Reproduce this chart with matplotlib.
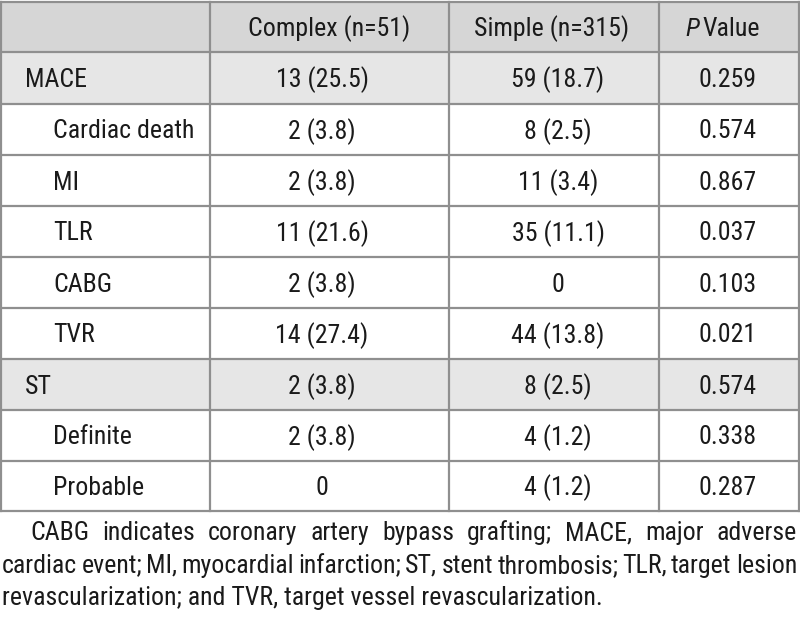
import matplotlib
matplotlib.use("Agg")
import matplotlib.pyplot as plt
from matplotlib.patches import Rectangle
from matplotlib import font_manager

available = {f.name for f in font_manager.fontManager.ttflist}
family = None
for cand in ['Liberation Sans Narrow', 'Roboto Condensed', 'Arial Narrow', 'Roboto', 'Liberation Sans']:
    if cand in available:
        family = cand
        break
plt.rcParams['font.family'] = [family, 'DejaVu Sans'] if family else ['DejaVu Sans']

# ---- data ----
headers = ["", "Complex (n=51)", "Simple (n=315)", "P Value"]
row_labels = ["MACE", "Cardiac death", "MI", "TLR", "CABG", "TVR", "ST", "Definite", "Probable"]
row_level = [0, 1, 1, 1, 1, 1, 0, 1, 1]
complex_vals = ["13 (25.5)", "2 (3.8)", "2 (3.8)", "11 (21.6)", "2 (3.8)", "14 (27.4)", "2 (3.8)", "2 (3.8)", "0"]
simple_vals = ["59 (18.7)", "8 (2.5)", "11 (3.4)", "35 (11.1)", "0", "44 (13.8)", "8 (2.5)", "4 (1.2)", "4 (1.2)"]
p_vals = ["0.259", "0.574", "0.867", "0.037", "0.103", "0.021", "0.574", "0.338", "0.287"]
footnote = ("CABG indicates coronary artery bypass grafting; MACE, major adverse "
            "cardiac event; MI, myocardial infarction; ST, stent thrombosis; TLR, target lesion "
            "revascularization; and TVR, target vessel revascularization.")
footnote_breaks = [9, 11]  # word counts per justified line

W, H = 800, 623
fig = plt.figure(figsize=(W / 100, H / 100), dpi=100)
ax = fig.add_axes([0, 0, 1, 1])
ax.set_xlim(0, W)
ax.set_ylim(H, 0)
ax.axis('off')
fig.canvas.draw()
renderer = fig.canvas.get_renderer()

# choose font size so the header text matches the reference width (~162 px)
probe = ax.text(0, 0, headers[1], fontsize=17.5)
pw = probe.get_window_extent(renderer).width
fs = min(17.5 * 162.0 / pw, 19.0)
probe.remove()

col_x = [1, 210, 449, 659, 799]
row_y = [2, 52, 104, 155, 206, 257, 308, 359, 410, 461, 511]
border = '#8f8f8f'
tc = '#1a1a1a'

# backgrounds
ax.add_patch(Rectangle((col_x[0], row_y[0]), col_x[-1] - col_x[0], row_y[1] - row_y[0],
                       facecolor='#d6d6d6', edgecolor='none', zorder=0))
for i, lvl in enumerate(row_level):
    if lvl == 0:
        ax.add_patch(Rectangle((col_x[0], row_y[i + 1]), col_x[-1] - col_x[0], row_y[i + 2] - row_y[i + 1],
                               facecolor='#e6e6e6', edgecolor='none', zorder=0))

# grid lines
for y in row_y:
    ax.plot([col_x[0], col_x[-1]], [y, y], color=border, lw=1.6, zorder=1, solid_capstyle='projecting')
for x in col_x:
    ax.plot([x, x], [row_y[0], row_y[-1]], color=border, lw=1.6, zorder=1, solid_capstyle='projecting')

# header
hy = (row_y[0] + row_y[1]) / 2 + 2
ax.text(329, hy, headers[1], ha='center', va='center', fontsize=fs, color=tc)
ax.text(552, hy, headers[2], ha='center', va='center', fontsize=fs, color=tc)
ax.text(685, hy, "P", ha='left', va='center', fontsize=fs, color=tc, style='italic')
ax.text(702, hy, "Value", ha='left', va='center', fontsize=fs, color=tc)

data_cx = [322, 558, 728]
for i, lab in enumerate(row_labels):
    yc = (row_y[i + 1] + row_y[i + 2]) / 2 + 2
    lx = 25 if row_level[i] == 0 else 53
    ax.text(lx, yc, lab, ha='left', va='center', fontsize=fs, color=tc)
    ax.text(data_cx[0], yc, complex_vals[i], ha='center', va='center', fontsize=fs, color=tc)
    ax.text(data_cx[1], yc, simple_vals[i], ha='center', va='center', fontsize=fs, color=tc)
    ax.text(data_cx[2], yc, p_vals[i], ha='center', va='center', fontsize=fs, color=tc)

# footnote (justified)
words = footnote.split()
b1 = footnote_breaks[0]
b2 = b1 + footnote_breaks[1]
lines = [words[:b1], words[b1:b2], words[b2:]]
line_y = [533, 566, 598]
starts = [30, 2, 2]
right = 797
for li, (ws, y, x0) in enumerate(zip(lines, line_y, starts)):
    if li < 2:
        texts = [ax.text(0, y, w, ha='left', va='center', fontsize=fs, color=tc) for w in ws]
        widths = [t.get_window_extent(renderer).width for t in texts]
        gap = (right - x0 - sum(widths)) / (len(ws) - 1)
        x = x0
        for t, w in zip(texts, widths):
            t.set_x(x)
            x += w + gap
    else:
        ax.text(x0, y, " ".join(ws), ha='left', va='center', fontsize=fs, color=tc)

fig.savefig("out.png", dpi=100)
